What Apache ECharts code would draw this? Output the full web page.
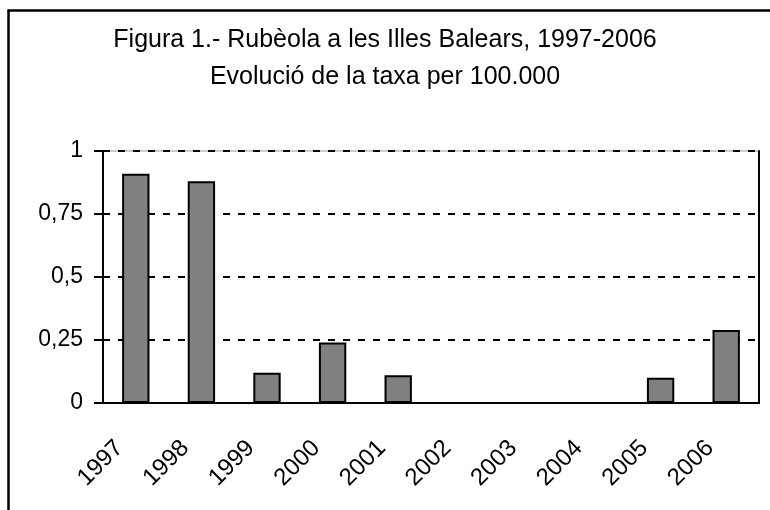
<!DOCTYPE html>
<html>
<head>
<meta charset="utf-8">
<script src="https://cdn.jsdelivr.net/npm/echarts@6/dist/echarts.min.js"></script>
<style>
    html, body { margin: 0; padding: 0; background: #fff; }
    #chart { width: 770px; height: 510px; }
</style>
</head>
<body>
<div id="chart"></div>
<script>
    // data
    const years = ['1997', '1998', '1999', '2000', '2001', '2002', '2003', '2004', '2005', '2006'];
    const rates = [0.91, 0.88, 0.12, 0.24, 0.11, 0, 0, 0, 0.10, 0.29];
    const yTicks = [0, 0.25, 0.5, 0.75, 1];

    const titleText = 'Figura 1.- Rubèola a les Illes Balears, 1997-2006\nEvolució de la taxa per 100.000';
    const font = 'Liberation Sans';

    let myChart = echarts.init(document.getElementById('chart'));
    let option = {
        animation: false,
        textStyle: { fontFamily: font },
        title: {
            text: titleText,
            left: 'center',
            top: 17,
            textStyle: {
                fontFamily: font,
                fontWeight: 'normal',
                fontSize: 25,
                lineHeight: 37,
                color: '#000'
            }
        },
        graphic: [
            {
                type: 'rect',
                left: 6,
                top: 8,
                shape: { width: 820, height: 620 },
                style: { fill: 'none', stroke: '#000', lineWidth: 2.5 },
                silent: true
            }
        ],
        grid: {
            left: 103,
            top: 151,
            right: 11,
            bottom: 107,
            show: true,
            borderColor: '#999',
            borderWidth: 1
        },
        xAxis: {
            type: 'category',
            data: years,
            axisLine: { lineStyle: { color: '#000', width: 2 } },
            axisTick: { length: 10, lineStyle: { color: '#000', width: 2 } },
            axisLabel: {
                rotate: 45,
                interval: 0,
                margin: 25,
                fontSize: 24,
                fontFamily: font,
                color: '#000',
                padding: [0, 23, 0, 0]
            }
        },
        yAxis: [
            {
                type: 'value',
                min: yTicks[0],
                max: yTicks[yTicks.length - 1],
                interval: 0.25,
                axisLine: { show: true, lineStyle: { color: '#000', width: 2 } },
                axisTick: { show: true, length: 9, lineStyle: { color: '#000', width: 2 } },
                axisLabel: {
                    margin: 20,
                    fontSize: 23,
                    fontFamily: font,
                    color: '#000',
                    formatter: function (v) { return String(v).replace('.', ','); }
                },
                splitLine: {
                    show: true,
                    lineStyle: { color: '#000', width: 2, type: [7, 8] }
                }
            },
            {
                type: 'value',
                position: 'right',
                min: 0,
                max: 1,
                axisLine: { show: true, lineStyle: { color: '#000', width: 2 } },
                axisTick: { show: false },
                axisLabel: { show: false },
                splitLine: { show: false }
            }
        ],
        series: [
            {
                name: 'taxa',
                type: 'bar',
                barWidth: '41.7%',
                data: rates,
                itemStyle: {
                    color: '#808080',
                    borderColor: '#000',
                    borderWidth: 2
                }
            }
        ]
    };
    myChart.setOption(option);
</script>
</body>
</html>
